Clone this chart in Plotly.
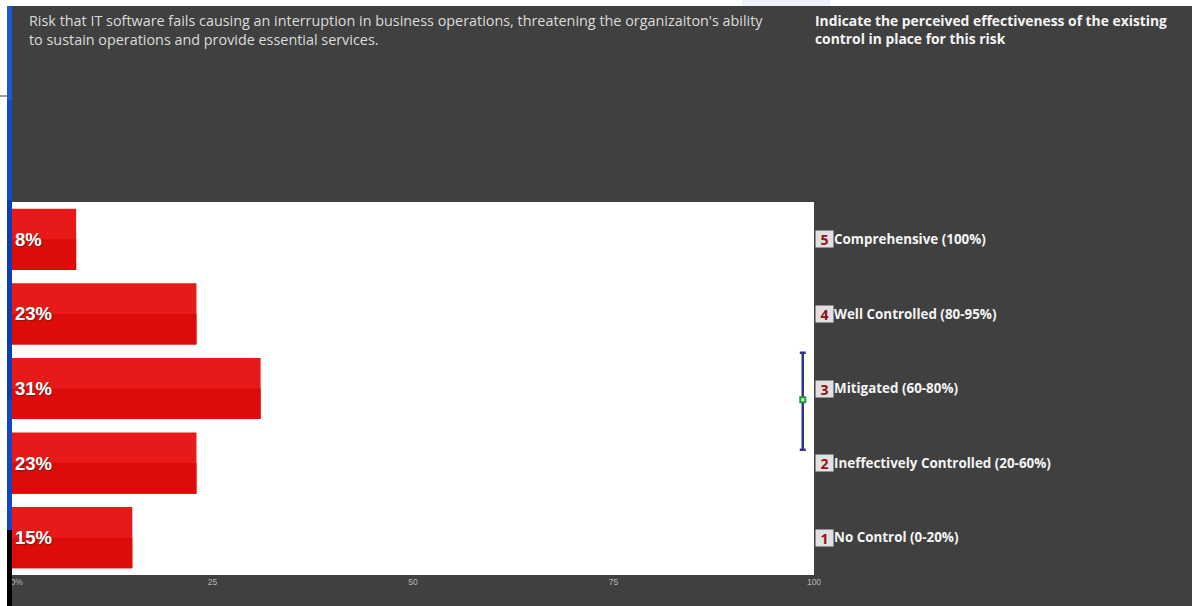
import plotly.graph_objects as go

# Survey responses: share of respondents per control-effectiveness level
levels = [5, 4, 3, 2, 1]
level_names = [
    "Comprehensive (100%)",
    "Well Controlled (80-95%)",
    "Mitigated (60-80%)",
    "Ineffectively Controlled (20-60%)",
    "No Control (0-20%)",
]
shares = [8, 23, 31, 23, 15]
share_labels = [f"{s}%" for s in shares]

tick_values = [0, 25, 50, 75, 100]
tick_labels = ["\u00a0\u00a0\u00a0\u00a00%", "25", "50", "75", "100"]

# Mean response and its spread, shown as a whisker near the right edge
mean_position = [98.6]
mean_level = [2.85]
spread_up = [0.63]
spread_down = [0.67]

risk_text = ("Risk that IT software fails causing an interruption in business operations, "
             "threatening the organizaiton's ability<br>to sustain operations and provide essential services.")
question_text = "<b>Indicate the perceived effectiveness of the existing<br>control in place for this risk</b>"

W, H = 1192, 606
L, R, T, B = 12, 814, 202, 575


def px(x):
    return (x - L) / (R - L)


def py(y):
    return (B - y) / (B - T)


BAR_WIDTH = 0.82

fig = go.Figure()

# Each bar is a lighter full-height bar with a darker lower half on top of it
fig.add_bar(y=levels, x=shares, orientation="h", width=BAR_WIDTH, offset=-BAR_WIDTH / 2,
            marker=dict(color="#e81a19", line_width=0), hoverinfo="skip")
fig.add_bar(y=levels, x=shares, orientation="h", width=BAR_WIDTH / 2, offset=-BAR_WIDTH / 2,
            marker=dict(color="#dd0c0a", line_width=0), hoverinfo="skip")
fig.add_bar(y=levels, x=shares, orientation="h", width=BAR_WIDTH, offset=-BAR_WIDTH / 2,
            marker=dict(color="rgba(0,0,0,0)", line_width=0),
            text=share_labels, textposition="inside", insidetextanchor="start",
            constraintext="none", textangle=0,
            textfont=dict(family="Liberation Sans", size=18.5, color="#ffffff", weight="bold",
                          shadow="1px 1px 1px #6a2020"))

fig.add_scatter(x=mean_position, y=mean_level, mode="markers",
                marker=dict(symbol="square", size=5, color="#dff5df",
                            line=dict(color="#1f9a2c", width=2)),
                error_y=dict(type="data", symmetric=False, array=spread_up, arrayminus=spread_down,
                             color="#33338a", thickness=2.5, width=3))

# Frame pieces around the dark panel
shapes = [
    dict(x0=px(0), x1=px(7), y0=py(H), y1=py(0), fillcolor="#ffffff"),
    dict(x0=px(0), x1=px(W), y0=py(6), y1=py(0), fillcolor="#ffffff"),
    dict(x0=px(742), x1=px(830), y0=py(6), y1=py(0), fillcolor="#eef2fb"),
    dict(x0=px(7), x1=px(12), y0=py(100), y1=py(6), fillcolor="#1a5cd0"),
    dict(x0=px(7), x1=px(12), y0=py(200), y1=py(100), fillcolor="#124cc0"),
    dict(x0=px(7), x1=px(12), y0=py(400), y1=py(200), fillcolor="#0b3eb0"),
    dict(x0=px(7), x1=px(12), y0=py(530), y1=py(400), fillcolor="#0f48c0"),
    dict(x0=px(7), x1=px(12), y0=py(H), y1=py(530), fillcolor="#000000"),
    dict(x0=px(0), x1=px(7), y0=py(96.5), y1=py(95.5), fillcolor="#444444"),
]
for s in shapes:
    s.update(type="rect", xref="paper", yref="paper", line_width=0, layer="above")

annotations = [
    dict(text=risk_text, x=px(27), y=py(9), xanchor="left", yanchor="top", xref="paper", yref="paper",
         align="left", showarrow=False,
         font=dict(family="Open Sans", size=14.38, color="#dcdcdc")),
    dict(text=question_text, x=px(813), y=py(9), xanchor="left", yanchor="top", xref="paper", yref="paper",
         align="left", showarrow=False,
         font=dict(family="Open Sans", size=13.85, color="#f4f4f4")),
]
# Numbered badge in front of each level name
for lv in levels:
    annotations.append(dict(text=f"<b>{lv}</b>", x=px(815), y=lv, xanchor="left", yanchor="middle",
                            xref="paper", yref="y", showarrow=False, width=17, height=16,
                            borderpad=0, bgcolor="#e2e0e0",
                            font=dict(family="Open Sans", size=14, color="#8a1418")))

fig.update_layout(
    width=W, height=H, autosize=False, showlegend=False, barmode="overlay",
    paper_bgcolor="#404040", plot_bgcolor="#ffffff",
    margin=dict(l=L, r=W - R, t=T, b=H - B, pad=0),
    shapes=shapes, annotations=annotations,
    xaxis=dict(range=[0, 100], tickmode="array", tickvals=tick_values, ticktext=tick_labels,
               showgrid=False, zeroline=False, showline=False, ticks="", automargin=False,
               tickfont=dict(family="Liberation Sans", size=8.5, color="#b8b8b8")),
    yaxis=dict(range=[0.5, 5.5], side="right", tickmode="array", tickvals=levels, ticktext=level_names,
               showgrid=False, zeroline=False, showline=False, ticks="", ticklabelstandoff=19,
               automargin=False,
               tickfont=dict(family="Open Sans", size=13.4, color="#f4f4f4", weight="bold")),
)

fig.write_html("out.html", config=dict(displayModeBar=False))
